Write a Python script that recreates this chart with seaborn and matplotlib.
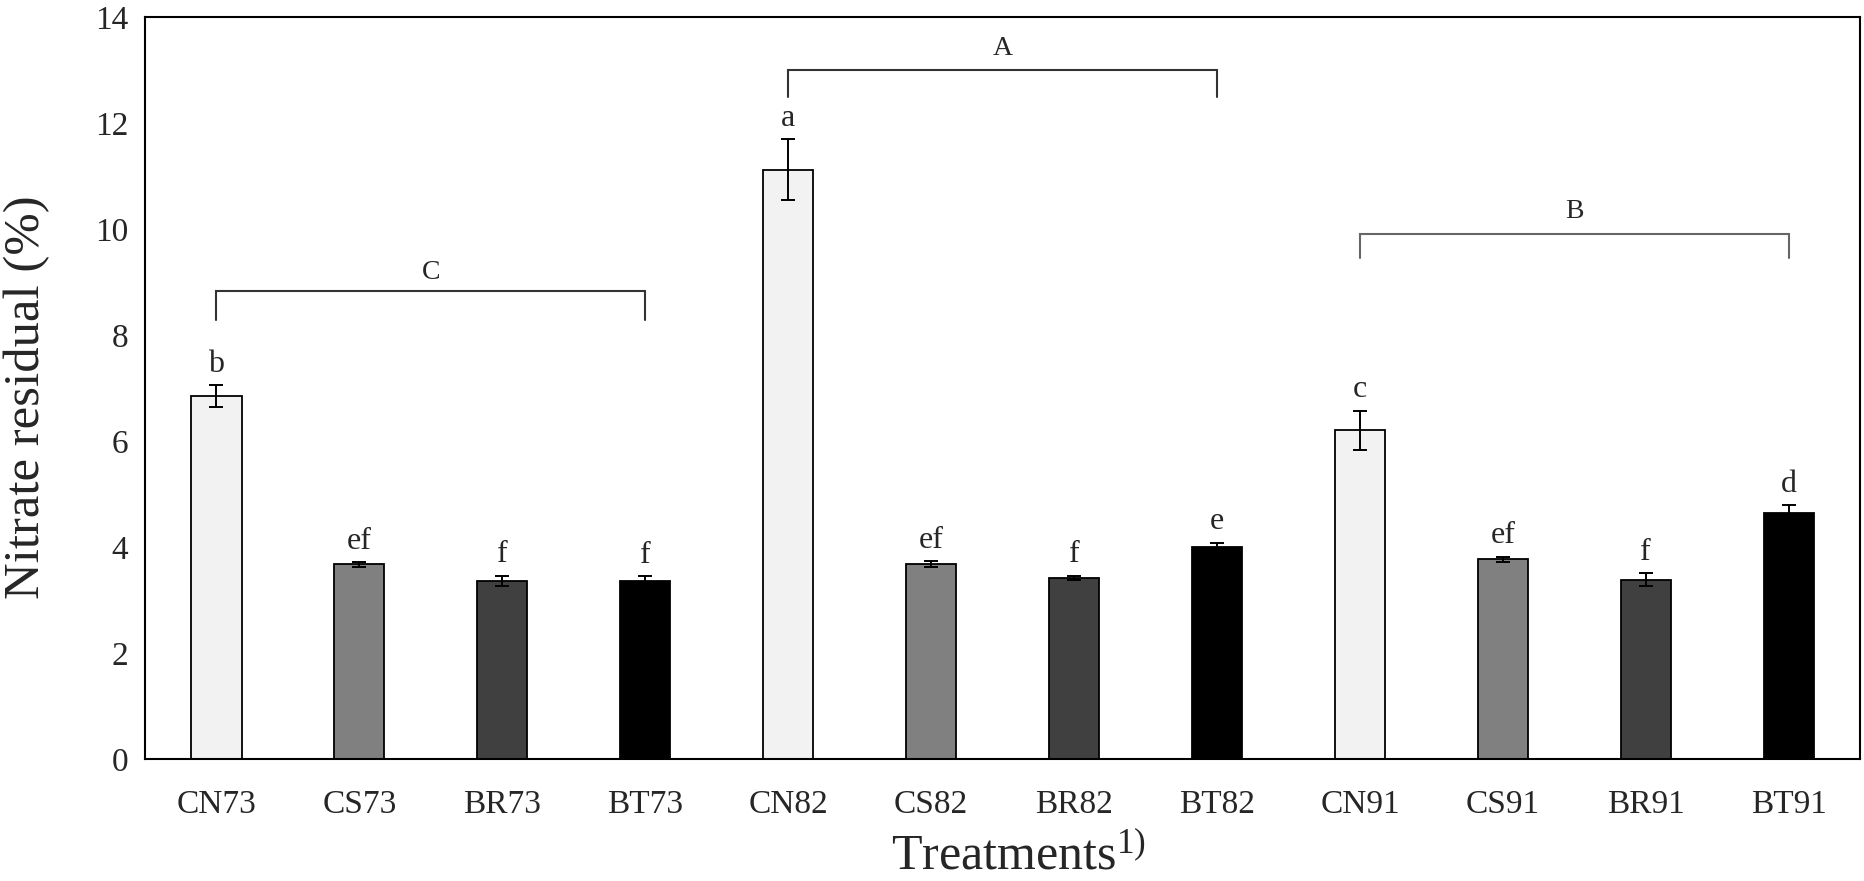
import matplotlib
matplotlib.use("Agg")
import matplotlib.pyplot as plt
import seaborn as sns
import pandas as pd

# ---- data ----
treatments = ["CN73", "CS73", "BR73", "BT73",
              "CN82", "CS82", "BR82", "BT82",
              "CN91", "CS91", "BR91", "BT91"]
means = [6.85, 3.67, 3.36, 3.36,
         11.12, 3.68, 3.42, 4.00,
         6.20, 3.77, 3.38, 4.64]
errors = [0.20, 0.04, 0.10, 0.09,
          0.58, 0.05, 0.04, 0.08,
          0.37, 0.05, 0.12, 0.15]
letters = ["b", "ef", "f", "f",
           "a", "ef", "f", "e",
           "c", "ef", "f", "d"]
groups = ["C", "A", "B"]
group_bracket_y = [8.83, 13.0, 9.9]
group_tick_y = [8.29, 12.49, 9.45]
group_text_y = [9.17, 13.4, 10.33]
group_colors = ["#333333", "#333333", "#666666"]

types = [t[:2] for t in treatments]
palette = {"CN": "#f2f2f2", "CS": "#808080", "BR": "#404040", "BT": "#000000"}

df = pd.DataFrame({"Treatment": treatments, "Value": means,
                   "Err": errors, "Type": types})

sns.set_style("white")
plt.rcParams["font.family"] = ["Liberation Serif", "DejaVu Serif"]
plt.rcParams["mathtext.fontset"] = "custom"
plt.rcParams["mathtext.rm"] = "Liberation Serif"
plt.rcParams["mathtext.it"] = "Liberation Serif:italic"

fig = plt.figure(figsize=(18.64, 8.81), dpi=100)
ax = fig.add_axes([0.0778, 0.1385, 0.9202, 0.8422])

sns.barplot(data=df, x="Treatment", y="Value", hue="Type", palette=palette,
            order=treatments, hue_order=["CN", "CS", "BR", "BT"],
            dodge=False, width=0.35, errorbar=None, legend=False,
            edgecolor="black", linewidth=1.3, ax=ax)

xpos = list(range(len(treatments)))
ax.errorbar(xpos, means, yerr=errors, fmt="none", ecolor="black",
            elinewidth=1.4, capsize=5, capthick=1.4, zorder=5)

for x, m, e, lab in zip(xpos, means, errors, letters):
    ax.text(x, m + e + 0.12, lab, ha="center", va="bottom", fontsize=23)

for i, (g, by, ty, tty, col) in enumerate(zip(groups, group_bracket_y, group_tick_y,
                                             group_text_y, group_colors)):
    x0, x1 = 4 * i, 4 * i + 3
    ax.plot([x0, x0, x1, x1], [ty, by, by, ty], color=col, lw=1.5,
            solid_joinstyle="miter")
    ax.text((x0 + x1) / 2, tty, g, ha="center", va="center", fontsize=20)

ax.set_xlim(-0.5, 11.5)
ax.set_ylim(0, 14)
ax.set_yticks([0, 2, 4, 6, 8, 10, 12, 14])
ax.tick_params(axis="both", length=0, labelsize=24)
ax.tick_params(axis="y", pad=12)
ax.tick_params(axis="x", pad=22)

for s in ax.spines.values():
    s.set_visible(True)
    s.set_color("black")
    s.set_linewidth(1.5)

ax.set_xlabel("Treatments$^{\\mathrm{1)}}$", fontsize=36)
ax.set_ylabel("Nitrate residual (%)", fontsize=36.5)
ax.xaxis.set_label_coords(0.509, -0.101)
ax.yaxis.set_label_coords(-0.0555, 0.488)

fig.savefig("out.png", dpi=100)
